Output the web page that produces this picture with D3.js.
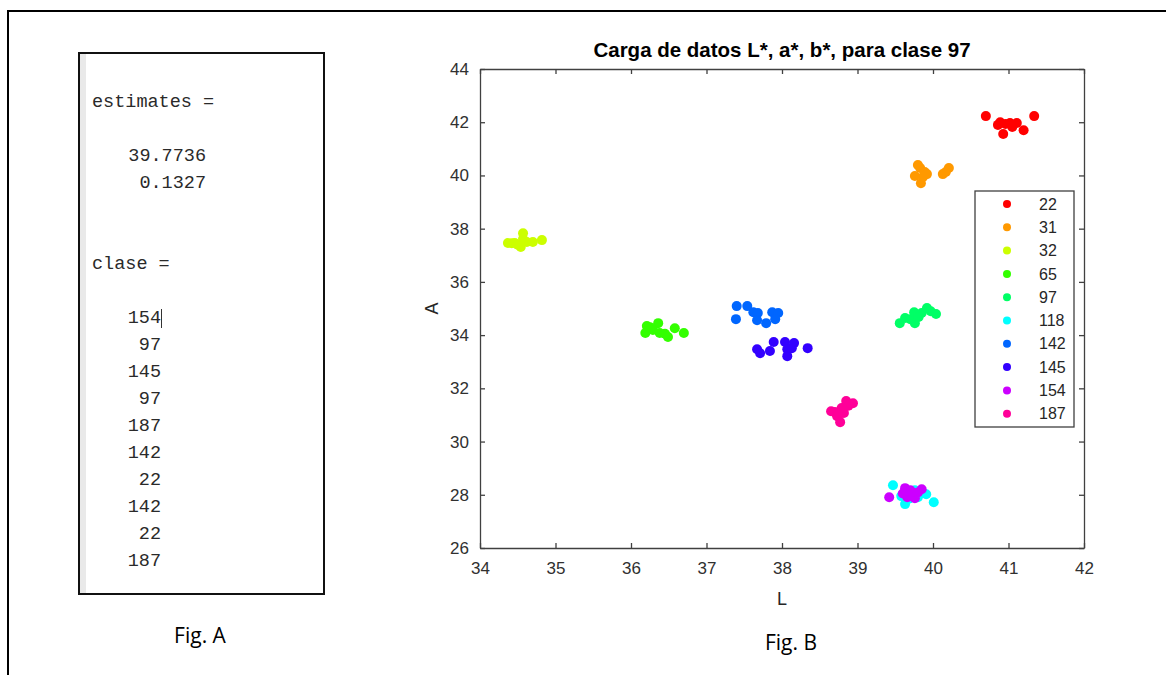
<!DOCTYPE html>
<html lang="es">
<head>
    <meta charset="UTF-8">
    <title>Carga de datos L*, a*, b*</title>
    <script src="https://d3js.org/d3.v7.min.js"></script>
    <style>
        body { margin: 0; background: #fff; }
        svg { display: block; }
        .mono { font-family: "Liberation Mono", "Courier New", monospace; font-size: 18.5px; fill: #2a2a2a; }
        .caption { font-family: "Open Sans", "Noto Sans", sans-serif; font-size: 21px; fill: #000; }
        .axis text { font-family: "Liberation Sans", Arial, sans-serif; font-size: 17px; fill: #303030; }
        .axis path, .axis line { stroke: #404040; stroke-width: 1.3px; }
        .legend text { font-family: "Liberation Sans", Arial, sans-serif; font-size: 16px; fill: #262626; }
    </style>
</head>
<body>
<script>
    // valores del panel A (ventana de comandos)
    const estimates = [39.7736, 0.1327];
    const clase = [154, 97, 145, 97, 187, 142, 22, 142, 22, 187];

    // clases y colores (hsv(10) de MATLAB)
    const classes = [22, 31, 32, 65, 97, 118, 142, 145, 154, 187];
    const colors = ["#ff0000", "#ff9900", "#ccff00", "#33ff00", "#00ff66",
                    "#00ffff", "#0066ff", "#3300ff", "#cc00ff", "#ff0099"];

    // L y A de cada clase
    const L22 = [40.70, 40.86, 40.93, 41.02, 41.11, 41.05, 41.20, 41.34, 40.89, 40.96];
    const A22 = [42.23, 41.90, 41.56, 41.97, 41.97, 41.82, 41.70, 42.23, 42.00, 41.93];
    const L31 = [39.83, 39.89, 39.76, 39.84, 39.92, 40.13, 40.21, 40.17, 39.80, 39.87];
    const A31 = [40.28, 40.13, 39.98, 39.71, 40.05, 40.05, 40.28, 40.13, 40.39, 39.95];
    const L32 = [34.37, 34.46, 34.57, 34.54, 34.62, 34.70, 34.82, 34.57, 34.42, 34.50];
    const A32 = [37.46, 37.46, 37.83, 37.31, 37.50, 37.50, 37.57, 37.61, 37.45, 37.40];
    const L65 = [36.21, 36.19, 36.36, 36.38, 36.49, 36.58, 36.70, 36.29, 36.45, 36.25];
    const A65 = [34.34, 34.08, 34.45, 34.08, 33.93, 34.26, 34.08, 34.19, 34.05, 34.30];
    const L97 = [39.56, 39.63, 39.70, 39.75, 39.76, 39.85, 39.92, 39.97, 40.04, 39.81];
    const A97 = [34.45, 34.64, 34.60, 34.86, 34.45, 34.83, 35.02, 34.90, 34.79, 34.68];
    const L118 = [39.47, 39.63, 39.91, 40.01, 39.70, 39.76, 39.80, 39.58, 39.68, 39.85];
    const A118 = [28.36, 27.65, 28.02, 27.72, 28.02, 28.17, 27.91, 27.95, 27.85, 28.10];
    const L142 = [37.40, 37.39, 37.54, 37.62, 37.68, 37.67, 37.79, 37.87, 37.95, 37.91];
    const A142 = [35.09, 34.60, 35.09, 34.86, 34.83, 34.56, 34.45, 34.86, 34.83, 34.60];
    const L145 = [37.67, 37.71, 37.84, 37.89, 38.04, 38.07, 38.07, 38.16, 38.13, 38.34];
    const A145 = [33.47, 33.32, 33.40, 33.74, 33.74, 33.47, 33.21, 33.70, 33.51, 33.51];
    const L154 = [39.42, 39.63, 39.66, 39.72, 39.76, 39.85, 39.70, 39.80, 39.60, 39.68];
    const A154 = [27.91, 28.25, 27.91, 28.06, 27.87, 28.21, 28.17, 28.09, 28.05, 27.98];
    const L187 = [38.65, 38.73, 38.77, 38.82, 38.85, 38.94, 38.79, 38.70, 38.75, 38.88];
    const A187 = [31.14, 30.95, 30.73, 31.07, 31.52, 31.44, 31.26, 31.11, 31.00, 31.35];

    const lByClass = [L22, L31, L32, L65, L97, L118, L142, L145, L154, L187];
    const aByClass = [A22, A31, A32, A65, A97, A118, A142, A145, A154, A187];

    const xTicks = [34, 35, 36, 37, 38, 39, 40, 41, 42];
    const yTicks = [26, 28, 30, 32, 34, 36, 38, 40, 42, 44];

    const width = 1166, height = 675;

    const svg = d3.select("body").append("svg")
        .attr("width", width)
        .attr("height", height);

    // marco exterior
    svg.append("rect")
        .attr("x", 8).attr("y", 11)
        .attr("width", width + 20).attr("height", height + 20)
        .attr("fill", "none")
        .attr("stroke", "#000")
        .attr("stroke-width", 2);

    // ---- Fig. A ----
    const panelA = svg.append("g");
    panelA.append("rect")
        .attr("x", 79).attr("y", 53)
        .attr("width", 245).attr("height", 541)
        .attr("fill", "#fff")
        .attr("stroke", "#111")
        .attr("stroke-width", 2);
    panelA.append("rect")
        .attr("x", 80).attr("y", 54)
        .attr("width", 6).attr("height", 539)
        .attr("fill", "#e9e9e9");

    panelA.append("text").attr("class", "mono")
        .attr("x", 92).attr("y", 107)
        .text("estimates =");
    panelA.selectAll("text.est")
        .data(estimates)
        .join("text")
        .attr("class", "mono est")
        .attr("x", 206)
        .attr("y", (d, i) => 161 + i * 27)
        .attr("text-anchor", "end")
        .text(d => d3.format(".4f")(d));
    panelA.append("text").attr("class", "mono")
        .attr("x", 92).attr("y", 269)
        .text("clase =");
    panelA.selectAll("text.cl")
        .data(clase)
        .join("text")
        .attr("class", "mono cl")
        .attr("x", 161)
        .attr("y", (d, i) => 323 + i * 27)
        .attr("text-anchor", "end")
        .text(d => d);
    // cursor
    panelA.append("line")
        .attr("x1", 161.5).attr("x2", 161.5)
        .attr("y1", 309).attr("y2", 328)
        .attr("stroke", "#333").attr("stroke-width", 1);

    svg.append("text").attr("class", "caption")
        .attr("x", 200).attr("y", 643)
        .attr("text-anchor", "middle")
        .text("Fig. A");

    // ---- Fig. B ----
    const x = d3.scaleLinear().domain([34, 42]).range([480, 1084]);
    const y = d3.scaleLinear().domain([26, 44]).range([548, 69]);

    const axes = svg.append("g");
    axes.append("g").attr("class", "axis")
        .attr("transform", `translate(0,${y(26)})`)
        .call(d3.axisBottom(x).tickValues(xTicks).tickSizeInner(-5).tickSizeOuter(0).tickPadding(14));
    axes.append("g").attr("class", "axis")
        .attr("transform", `translate(0,${y(44)})`)
        .call(d3.axisTop(x).tickValues(xTicks).tickSizeInner(-5).tickSizeOuter(0).tickFormat(""));
    axes.append("g").attr("class", "axis")
        .attr("transform", `translate(${x(34)},0)`)
        .call(d3.axisLeft(y).tickValues(yTicks).tickSizeInner(-5).tickSizeOuter(0).tickPadding(11));
    axes.append("g").attr("class", "axis")
        .attr("transform", `translate(${x(42)},0)`)
        .call(d3.axisRight(y).tickValues(yTicks).tickSizeInner(-5).tickSizeOuter(0).tickFormat(""));

    // puntos
    const points = classes.flatMap((c, k) =>
        lByClass[k].map((l, j) => ({ cls: c, k: k, L: l, A: aByClass[k][j] })));

    svg.append("g")
        .selectAll("circle")
        .data(points)
        .join("circle")
        .attr("cx", d => x(d.L))
        .attr("cy", d => y(d.A))
        .attr("r", 5)
        .attr("fill", d => colors[d.k]);

    // titulo y etiquetas
    svg.append("text")
        .attr("x", (x(34) + x(42)) / 2).attr("y", 57)
        .attr("text-anchor", "middle")
        .style("font", "bold 20.5px 'Liberation Sans', Arial, sans-serif")
        .style("fill", "#000")
        .text("Carga de datos L*, a*, b*, para clase 97");
    svg.append("text")
        .attr("x", (x(34) + x(42)) / 2).attr("y", 605)
        .attr("text-anchor", "middle")
        .style("font", "18px 'Liberation Sans', Arial, sans-serif")
        .style("fill", "#262626")
        .text("L");
    svg.append("text")
        .attr("transform", `translate(438,${(y(26) + y(44)) / 2}) rotate(-90)`)
        .attr("text-anchor", "middle")
        .style("font", "18px 'Liberation Sans', Arial, sans-serif")
        .style("fill", "#262626")
        .text("A");

    // leyenda
    const legend = svg.append("g").attr("class", "legend");
    legend.append("rect")
        .attr("x", 975).attr("y", 191)
        .attr("width", 99).attr("height", 236)
        .attr("fill", "#fff")
        .attr("stroke", "#404040")
        .attr("stroke-width", 1.3);
    const row = legend.selectAll("g.row")
        .data(classes)
        .join("g")
        .attr("class", "row")
        .attr("transform", (d, i) => `translate(0,${204 + i * 23.3})`);
    row.append("circle")
        .attr("cx", 1007).attr("cy", 0)
        .attr("r", 4)
        .attr("fill", (d, i) => colors[i]);
    row.append("text")
        .attr("x", 1039).attr("y", 0)
        .attr("dy", "0.35em")
        .text(d => d);

    svg.append("text").attr("class", "caption")
        .attr("x", 791).attr("y", 650)
        .attr("text-anchor", "middle")
        .text("Fig. B");
</script>
</body>
</html>
